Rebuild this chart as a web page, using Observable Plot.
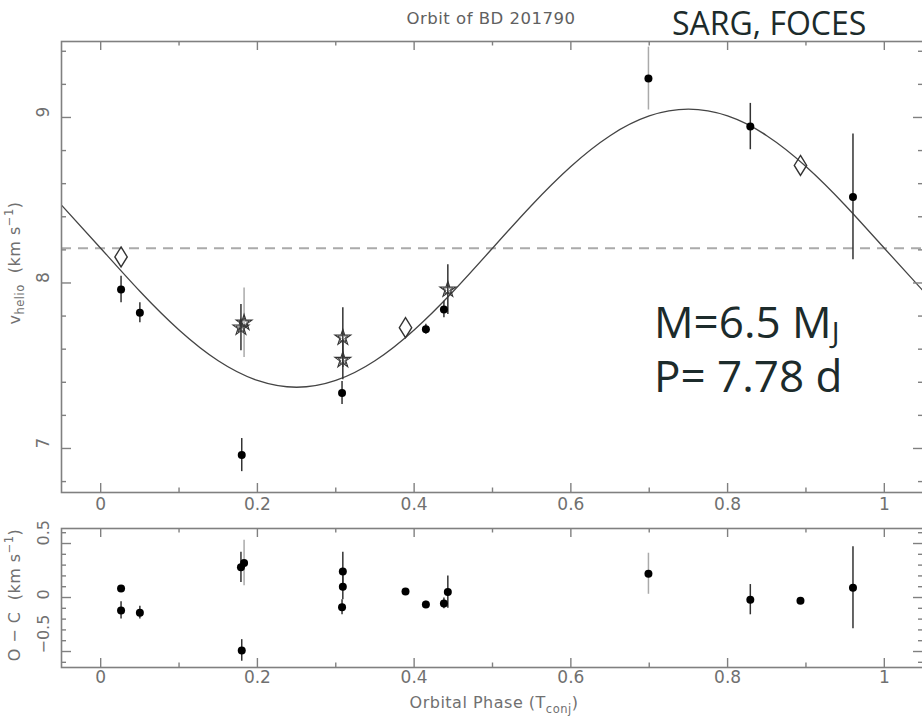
<!DOCTYPE html>
<html><head><meta charset="utf-8">
<script src="https://cdn.jsdelivr.net/npm/d3@7"></script>
<script src="https://cdn.jsdelivr.net/npm/@observablehq/plot@0.6"></script>
<style>
html,body{margin:0;padding:0;background:#fff;}
#wrap{position:relative;width:922px;height:717px;overflow:hidden;background:#fff;}
#wrap svg{position:absolute;left:0;max-width:none;}
</style></head><body><div id="wrap"></div>
<script>
// ---------- data ----------
const circlePhase = [0.026, 0.050, 0.180, 0.308, 0.415, 0.438, 0.699, 0.829, 0.960];
const circleVel   = [7.96, 7.82, 6.96, 7.335, 7.72, 7.84, 9.235, 8.945, 8.52];
const circleErr   = [0.08, 0.06, 0.10, 0.07, 0.03, 0.05, 0.19, 0.14, 0.38];
const circleRes   = [-0.12, -0.14, -0.49, -0.09, -0.065, -0.055, 0.22, -0.02, 0.09];
const circleFaint = [false, false, false, false, false, false, true, false, false];

const diamondPhase = [0.026, 0.389, 0.893];
const diamondVel   = [8.157, 7.73, 8.71];
const diamondRes   = [0.083, 0.055, -0.03];

const starPhase = [0.179, 0.183, 0.309, 0.309, 0.443];
const starVel   = [7.73, 7.76, 7.67, 7.535, 7.96];
const starErr   = [0.14, 0.21, 0.18, 0.12, 0.15];
const starRes   = [0.28, 0.32, 0.24, 0.10, 0.05];
const starFaint = [false, true, false, false, false];

// fitted orbit curve
const fitPhase = [-0.05, 0, 0.05, 0.10, 0.15, 0.20, 0.25, 0.30, 0.35, 0.40, 0.45, 0.50, 0.55, 0.60, 0.65, 0.70, 0.75, 0.80, 0.85, 0.90, 0.95, 1.00, 1.05];
const fitVel   = [8.47, 8.21, 7.95, 7.716, 7.53, 7.411, 7.37, 7.411, 7.53, 7.716, 7.95, 8.21, 8.47, 8.704, 8.89, 9.009, 9.05, 9.009, 8.89, 8.704, 8.47, 8.21, 7.95];
const systemicVel = 8.21;

const xMajorTicks = [0, 0.2, 0.4, 0.6, 0.8, 1];
const xMinorTicks = [0.1, 0.3, 0.5, 0.7, 0.9];
const xTickLabels = ["0", "0.2", "0.4", "0.6", "0.8", "1"];
const vMajorTicks = [7, 8, 9];
const vMinorTicks = [6.8, 7.2, 7.4, 7.6, 7.8, 8.2, 8.4, 8.6, 8.8, 9.2, 9.4];
const vTickLabels = ["7", "8", "9"];
const rMajorTicks = [-0.5, 0, 0.5];
const rMinorTicks = [-0.6, -0.4, -0.3, -0.2, -0.1, 0.1, 0.2, 0.3, 0.4, 0.6];
const rTickLabels = ["\u22120.5", "0", "0.5"];

const titleText = "Orbit of BD 201790";
const instText = "SARG, FOCES";

// ---------- tables ----------
const circles = circlePhase.map((p, i) => ({phase: p, v: circleVel[i], err: circleErr[i], res: circleRes[i], faint: circleFaint[i]}));
const diamonds = diamondPhase.map((p, i) => ({phase: p, v: diamondVel[i], res: diamondRes[i]}));
const stars = starPhase.map((p, i) => ({phase: p, v: starVel[i], err: starErr[i], res: starRes[i], faint: starFaint[i]}));
const fit = fitPhase.map((p, i) => ({phase: p, v: fitVel[i]}));
const withErr = circles.concat(stars);
const allRes = circles.concat(diamonds, stars);

// ---------- styles ----------
const FONT = "DejaVu Sans";
const AX = "#808080";
const LBL = "#707070";
const dark = "#333", faintC = "#aaa";

const tallDiamond = {
  draw(ctx, size) {
    const r = Math.sqrt(size / Math.PI);
    const w = r * 0.62;
    ctx.moveTo(0, -r); ctx.lineTo(w, 0); ctx.lineTo(0, r); ctx.lineTo(-w, 0); ctx.closePath();
  }
};

function frameTicks(FW, FH, xMaj, xMin, yMaj, yMin) {
  const o = {stroke: AX, strokeWidth: 1.4};
  return [
    Plot.tickX(xMaj, {x: d => d, insetTop: FH - 9, ...o}),
    Plot.tickX(xMaj, {x: d => d, insetBottom: FH - 9, ...o}),
    Plot.tickX(xMin, {x: d => d, insetTop: FH - 4.5, ...o}),
    Plot.tickX(xMin, {x: d => d, insetBottom: FH - 4.5, ...o}),
    Plot.tickY(yMaj, {y: d => d, insetRight: FW - 10, ...o}),
    Plot.tickY(yMaj, {y: d => d, insetLeft: FW - 10, ...o}),
    Plot.tickY(yMin, {y: d => d, insetRight: FW - 5, ...o}),
    Plot.tickY(yMin, {y: d => d, insetLeft: FW - 5, ...o}),
    Plot.frame({stroke: AX, strokeWidth: 1.6})
  ];
}

const W = 925;
// ---------- upper panel ----------
const U = {h: 520, mL: 61, mR: 2, mT: 41, mB: 28};
const UFW = W - U.mL - U.mR, UFH = U.h - U.mT - U.mB;
const upper = Plot.plot({
  width: W, height: U.h,
  marginLeft: U.mL, marginRight: U.mR, marginTop: U.mT, marginBottom: U.mB,
  x: {domain: [-0.05, 1.05], axis: null},
  y: {domain: [6.734, 9.459], axis: null},
  marks: [
    Plot.ruleY([systemicVel], {stroke: "#aaa", strokeWidth: 2, strokeDasharray: "10,7"}),
    Plot.line(fit, {x: "phase", y: "v", curve: "natural", stroke: "#444", strokeWidth: 1.3, clip: true}),
    Plot.ruleX(withErr, {x: "phase", y1: d => d.v - d.err, y2: d => d.v + d.err, stroke: d => d.faint ? faintC : dark, strokeWidth: 1.5}),
    Plot.dot(circles, {x: "phase", y: "v", r: 4, fill: "black", stroke: "none"}),
    Plot.dot(diamonds, {x: "phase", y: "v", r: 10, symbol: tallDiamond, fill: "none", stroke: dark, strokeWidth: 1.4}),
    Plot.dot(stars, {x: "phase", y: "v", r: 5, symbol: "star", fill: "none", stroke: dark, strokeWidth: 1.1}),
    Plot.dot(stars, {x: "phase", y: "v", r: 3.2, symbol: "star", fill: "none", stroke: dark, strokeWidth: 0.9}),
    ...frameTicks(UFW, UFH, xMajorTicks, xMinorTicks, vMajorTicks, vMinorTicks),
    Plot.text(xMajorTicks, {x: d => d, text: (d, i) => xTickLabels[i], frameAnchor: "bottom", dy: 17, fontSize: 17, fill: LBL, fontFamily: FONT}),
    Plot.text(vMajorTicks, {y: d => d, text: (d, i) => vTickLabels[i], frameAnchor: "left", dx: -18, rotate: -90, fontSize: 17, fill: LBL, fontFamily: FONT})
  ]
});
upper.style.top = "0px";
upper.style.maxWidth = "none";

// ---------- lower panel ----------
const L = {h: 197, mL: 61, mR: 2, mT: 8, mB: 50};
const LFW = W - L.mL - L.mR, LFH = L.h - L.mT - L.mB;
const lower = Plot.plot({
  width: W, height: L.h,
  marginLeft: L.mL, marginRight: L.mR, marginTop: L.mT, marginBottom: L.mB,
  x: {domain: [-0.05, 1.05], axis: null},
  y: {domain: [-0.648, 0.639], axis: null},
  marks: [
    Plot.ruleX(withErr, {x: "phase", y1: d => d.res - d.err, y2: d => d.res + d.err, stroke: d => d.faint ? faintC : dark, strokeWidth: 1.5}),
    Plot.dot(allRes, {x: "phase", y: "res", r: 4, fill: "black", stroke: "none"}),
    ...frameTicks(LFW, LFH, xMajorTicks, xMinorTicks, rMajorTicks, rMinorTicks),
    Plot.text(xMajorTicks, {x: d => d, text: (d, i) => xTickLabels[i], frameAnchor: "bottom", dy: 15, fontSize: 17, fill: LBL, fontFamily: FONT}),
    Plot.text(rMajorTicks, {y: d => d, text: (d, i) => rTickLabels[i], frameAnchor: "left", dx: -18, dy: 2, rotate: -90, fontSize: 16, fill: LBL, fontFamily: FONT})
  ]
});
lower.style.top = "520px";
lower.style.maxWidth = "none";

const wrap = document.getElementById("wrap");
wrap.appendChild(upper);
wrap.appendChild(lower);

// ---------- labels with sub/superscripts ----------
const us = d3.select(upper);
us.append("text").attr("x", 491).attr("y", 24).attr("text-anchor", "middle")
  .attr("font-family", FONT).attr("font-size", 16.5).attr("letter-spacing", 0.5)
  .attr("fill", "#606060").text(titleText);

const vl = us.append("text").attr("transform", "translate(20,263) rotate(-90)").attr("text-anchor", "middle")
  .attr("font-family", FONT).attr("font-size", 16).attr("fill", LBL).attr("letter-spacing", 0.5);
vl.append("tspan").text("v");
vl.append("tspan").attr("dy", 4).attr("font-size", 11.5).text("helio");
vl.append("tspan").attr("dy", -4).text("  (km s");
vl.append("tspan").attr("dy", -7).attr("font-size", 11.5).text("\u22121");
vl.append("tspan").attr("dy", 7).text(")");

us.append("text").attr("x", 672).attr("y", 35).attr("text-anchor", "start").attr("font-family", "Open Sans").attr("font-size", 32)
  .attr("fill", "#1c2b2b").text(instText);

const m1 = us.append("text").attr("x", 654).attr("y", 338).attr("text-anchor", "start").attr("font-family", "Open Sans").attr("font-size", 44).attr("fill", "#1c2b2b");
m1.append("tspan").text("M=6.5 M");
m1.append("tspan").attr("dy", 5).attr("font-size", 29).text("J");
m1.append("tspan").attr("x", 654).attr("dy", 49).text("P= 7.78 d");

const ls = d3.select(lower);
const rl = ls.append("text").attr("transform", "translate(20,75) rotate(-90)").attr("text-anchor", "middle")
  .attr("font-family", FONT).attr("font-size", 16).attr("fill", LBL).attr("letter-spacing", 0.5);
rl.append("tspan").text("O \u2212 C  (km s");
rl.append("tspan").attr("dy", -7).attr("font-size", 11.5).text("\u22121");
rl.append("tspan").attr("dy", 7).text(")");

const xl = ls.append("text").attr("x", 494).attr("y", 188).attr("text-anchor", "middle")
  .attr("font-family", FONT).attr("font-size", 16).attr("fill", LBL).attr("letter-spacing", 0.5);
xl.append("tspan").text("Orbital Phase (T");
xl.append("tspan").attr("dy", 5).attr("font-size", 11.5).text("conj");
xl.append("tspan").attr("dy", -5).text(")");
</script></body></html>
